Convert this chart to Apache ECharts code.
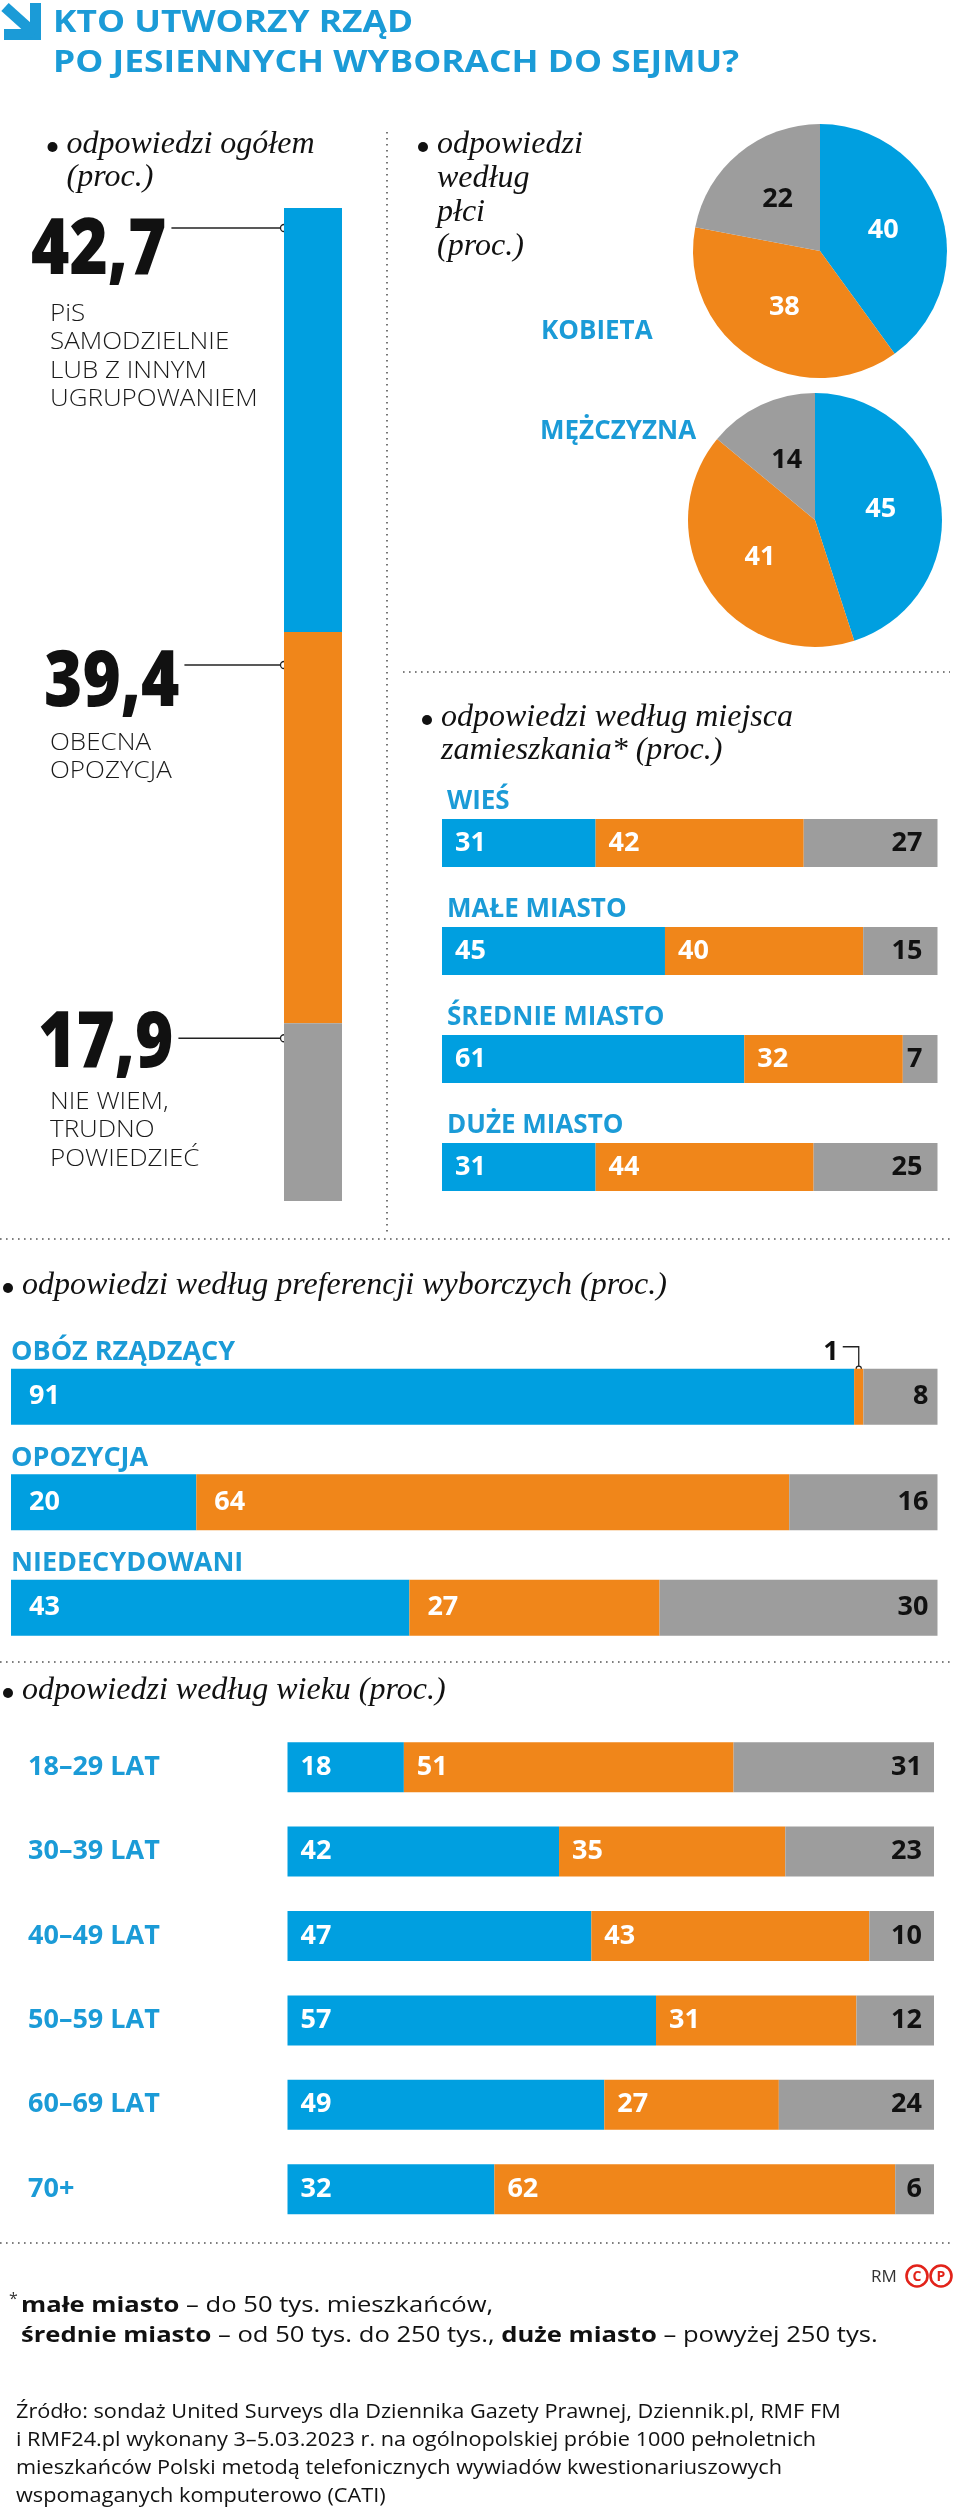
<!DOCTYPE html>
<html><head><meta charset="utf-8">
<script src="https://cdn.jsdelivr.net/npm/echarts@6/dist/echarts.min.js"></script>
<style>html,body{margin:0;padding:0;background:#fff}#c{width:976px;height:2508px}</style>
</head><body><div id="c"></div>
<script>
// ---------- DATA ----------
const titleLines = ['KTO UTWORZY RZĄD', 'PO JESIENNYCH WYBORACH DO SEJMU?'];
const overallValues = [42.7, 39.4, 17.9];
const overallLabels = [['PiS', 'SAMODZIELNIE', 'LUB Z INNYM', 'UGRUPOWANIEM'], ['OBECNA', 'OPOZYCJA'], ['NIE WIEM,', 'TRUDNO', 'POWIEDZIEĆ']];
const genderCategories = ['KOBIETA', 'MĘŻCZYZNA'];
const womenValues = [40, 38, 22];
const menValues = [45, 41, 14];
const placeCategories = ['WIEŚ', 'MAŁE MIASTO', 'ŚREDNIE MIASTO', 'DUŻE MIASTO'];
const placeBlue = [31, 45, 61, 31];
const placeOrange = [42, 40, 32, 44];
const placeGray = [27, 15, 7, 25];
const prefCategories = ['OBÓZ RZĄDZĄCY', 'OPOZYCJA', 'NIEDECYDOWANI'];
const prefBlue = [91, 20, 43];
const prefOrange = [1, 64, 27];
const prefGray = [8, 16, 30];
const ageCategories = ['18–29 LAT', '30–39 LAT', '40–49 LAT', '50–59 LAT', '60–69 LAT', '70+'];
const ageBlue = [18, 42, 47, 57, 49, 32];
const ageOrange = [51, 35, 43, 31, 27, 62];
const ageGray = [31, 23, 10, 12, 24, 6];
const headings = {
  overall: ['odpowiedzi ogółem', '(proc.)'],
  gender: ['odpowiedzi', 'według', 'płci', '(proc.)'],
  place: ['odpowiedzi według miejsca', 'zamieszkania* (proc.)'],
  pref: ['odpowiedzi według preferencji wyborczych (proc.)'],
  age: ['odpowiedzi według wieku (proc.)']
};
const footnoteLines = [
  '{b|małe miasto}{n| – do 50 tys. mieszkańców,}',
  '{b|średnie miasto}{n| – od 50 tys. do 250 tys., }{b|duże miasto}{n| – powyżej 250 tys.}'
];
const sourceLines = [
  'Źródło: sondaż United Surveys dla Dziennika Gazety Prawnej, Dziennik.pl, RMF FM',
  'i RMF24.pl wykonany 3–5.03.2023 r. na ogólnopolskiej próbie 1000 pełnoletnich',
  'mieszkańców Polski metodą telefonicznych wywiadów kwestionariuszowych',
  'wspomaganych komputerowo (CATI)'
];

// ---------- STYLE ----------
const BLUE = '#009fe0', ORANGE = '#f0861a', GRAY = '#9d9d9d', TBLUE = '#1b9bd7';
const SANS = '"Open Sans", "Noto Sans", "Liberation Sans", sans-serif';
const SERIF = '"Liberation Serif", "DejaVu Serif", serif';
const colors = [BLUE, ORANGE, GRAY];

const chart = echarts.init(document.getElementById('c'), null, {renderer: 'canvas'});

function hidden(type, extra) {
  return Object.assign({type: type, show: false}, extra || {});
}
function valLabel(pos, dist, color) {
  return {show: true, position: pos, distance: dist, color: color, fontFamily: SANS, fontWeight: 'bold', fontSize: 27,
          formatter: p => String(p.value)};
}
function stack(gi, arrays, bw, dl, dr, hideFirstOrange) {
  return arrays.map((arr, k) => ({
    type: 'bar', xAxisIndex: gi, yAxisIndex: gi, stack: 's' + gi, barWidth: bw, silent: true,
    itemStyle: {color: colors[k]},
    label: k === 2 ? valLabel('insideRight', dr, '#111') : valLabel('insideLeft', dl, '#fff'),
    data: arr.map((v, i) => (hideFirstOrange && k === 1 && i === 0) ? {value: v, label: {show: false}} : v)
  }));
}

const grids = [
  {left: 284, top: 208, width: 58, height: 993},
  {left: 442, top: 789, width: 495.5, height: 432},
  {left: 11, top: 1344, width: 926.5, height: 316.5},
  {left: 287.5, top: 1725, width: 646.5, height: 506.4}
].map(g => Object.assign(g, {containLabel: false, outerBoundsMode: 'none'}));

const catAxisBase = {type: 'category', inverse: true, axisLine: {show: false}, axisTick: {show: false}, splitLine: {show: false}};

const option = {
  animation: false,
  backgroundColor: '#fff',
  grid: grids,
  xAxis: [
    {type: 'category', data: [''], show: false, gridIndex: 0},
    hidden('value', {gridIndex: 1, min: 0, max: 100}),
    hidden('value', {gridIndex: 2, min: 0, max: 100}),
    hidden('value', {gridIndex: 3, min: 0, max: 100})
  ],
  yAxis: [
    {type: 'value', min: 0, max: 100, inverse: true, show: false, gridIndex: 0},
    Object.assign({}, catAxisBase, {gridIndex: 1, data: placeCategories, axisLabel: {show: false}}),
    Object.assign({}, catAxisBase, {gridIndex: 2, data: prefCategories, axisLabel: {show: false}}),
    Object.assign({}, catAxisBase, {gridIndex: 3, data: ageCategories,
      axisLabel: {show: true, align: 'left', margin: 259.5, color: TBLUE, fontFamily: SANS, fontWeight: 'bold', fontSize: 27}})
  ],
  series: [].concat(
    overallValues.map((v, k) => ({type: 'bar', xAxisIndex: 0, yAxisIndex: 0, stack: 'overall', barWidth: '100%', silent: true,
      itemStyle: {color: colors[k]}, data: [v]})),
    stack(1, [placeBlue, placeOrange, placeGray], 48, 13, 15, false),
    stack(2, [prefBlue, prefOrange, prefGray], 56, 18, 9, true),
    stack(3, [ageBlue, ageOrange, ageGray], 50, 13, 12, false),
    [[womenValues, [820, 251]], [menValues, [815, 520]]].map(([vals, c]) => ({
      type: 'pie', center: c, radius: 127, startAngle: 90, clockwise: true, silent: true,
      labelLine: {show: false},
      label: {show: true, position: 'inside', fontFamily: SANS, fontWeight: 'bold', fontSize: 27, formatter: '{c}'},
      emphasis: {disabled: true},
      data: vals.map((v, k) => ({value: v, itemStyle: {color: colors[k]}, label: {color: k === 2 ? '#111' : '#fff'}}))
    }))
  )
};
chart.setOption(option);

// ---------- GRAPHIC (text, leaders, separators) ----------
const g = [];
const mctx = document.createElement('canvas').getContext('2d');
function measure(text, font) { mctx.font = font; return mctx.measureText(text).width; }
function txt(x, y, text, font, fill, align, sx) {
  return {type: 'text', x: x, y: y, scaleX: sx || 1, silent: true,
    style: {text: text, font: font, fill: fill || '#111', align: align || 'left', verticalAlign: 'middle'}};
}
function dotted(x1, y1, x2, y2) {
  g.push({type: 'line', silent: true, shape: {x1, y1, x2, y2}, style: {stroke: '#555', lineWidth: 1.6, lineDash: [1.6, 4.4]}});
}
function heading(x, y, lines, step) {
  g.push({type: 'circle', silent: true, shape: {cx: x, cy: y + 2, r: 5}, style: {fill: '#111'}});
  lines.forEach((l, i) => g.push(txt(x + 14, y + i * step, l, 'italic 32px ' + SERIF, '#111')));
}

// arrow icon
g.push({type: 'rect', silent: true, shape: {x: 30, y: 3, width: 11, height: 37}, style: {fill: TBLUE}});
g.push({type: 'rect', silent: true, shape: {x: 4, y: 29, width: 37, height: 11}, style: {fill: TBLUE}});
g.push({type: 'polyline', silent: true, shape: {points: [[5, 7], [35, 34]]}, style: {stroke: TBLUE, lineWidth: 11}});
// title
titleLines.forEach((t, i) => g.push(txt(53, 23 + i * 40, t, 'bold 31px ' + SANS, TBLUE, 'left', 1.14)));

// headings
heading(52.5, 145, headings.overall, 33);
heading(423, 145, headings.gender, 33.7);
heading(427, 718, headings.place, 33);
heading(8, 1286, headings.pref, 33);
heading(8, 1691, headings.age, 33);

// overall: big numbers, leaders and descriptions
const numFont = '800 78px ' + SANS;
const numScale = 0.84;
const leaderOffsets = [20, 33, 15];
const numX = [31, 44, 38];
const numDy = [24, 19, 7];
const subStart = [62, 59, 57];
const subFont = '300 23px ' + SANS;
let cum = 0;
overallValues.forEach((v, i) => {
  const yStart = chart.convertToPixel({gridIndex: 0}, [0, cum])[1];
  cum += v;
  const ly = yStart + leaderOffsets[i];
  const s = String(v).replace('.', ',');
  const w = measure(s, numFont) * numScale;
  const ty = ly + numDy[i];
  g.push(txt(numX[i], ty, s, numFont, '#111', 'left', numScale));
  const lx1 = numX[i] + w + 5;
  g.push({type: 'line', silent: true, shape: {x1: lx1, y1: ly, x2: grids[0].left, y2: ly}, style: {stroke: '#222', lineWidth: 1.5}});
  g.push({type: 'circle', silent: true, shape: {cx: grids[0].left, cy: ly, r: 3.5}, style: {fill: '#fff', stroke: '#222', lineWidth: 1.3}});
  overallLabels[i].forEach((l, j) => g.push(txt(50, ty + subStart[i] + j * 28.5, l, subFont, '#1a1a1a', 'left', 1.13)));
});

// gender labels
g.push(txt(541, 332, genderCategories[0], 'bold 26px ' + SANS, TBLUE));
g.push(txt(540, 432, genderCategories[1], 'bold 26px ' + SANS, TBLUE));

// category labels above bars
placeCategories.forEach((c, i) => {
  const p = chart.convertToPixel({gridIndex: 1}, [0, i]);
  g.push(txt(p[0] + 5, p[1] - 41, c, 'bold 26px ' + SANS, TBLUE));
});
prefCategories.forEach((c, i) => {
  const p = chart.convertToPixel({gridIndex: 2}, [0, i]);
  g.push(txt(p[0], p[1] - 44, c, 'bold 27px ' + SANS, TBLUE));
});
// small "1" callout
(function () {
  const p = chart.convertToPixel({gridIndex: 2}, [prefBlue[0] + prefOrange[0] / 2, 0]);
  const top = p[1] - 28;
  g.push(txt(p[0] - 20, top - 16, String(prefOrange[0]), 'bold 27px ' + SANS, '#111', 'right'));
  g.push({type: 'polyline', silent: true, shape: {points: [[p[0] - 16, top - 22], [p[0], top - 22], [p[0], top - 2]]}, style: {stroke: '#222', lineWidth: 1.3, fill: null}});
  g.push({type: 'circle', silent: true, shape: {cx: p[0], cy: top, r: 2.6}, style: {fill: '#fff', stroke: '#222', lineWidth: 1.2}});
})();

// separators
dotted(387, 132, 387, 1232);
dotted(403, 672, 950, 672);
dotted(0, 1239, 950, 1239);
dotted(0, 1662, 950, 1662);
dotted(0, 2243, 950, 2243);

// RM + logo
g.push(txt(871, 2277, 'RM', '17px ' + SANS, '#333'));
[['C', 917], ['P', 941]].forEach(([l, cx]) => {
  g.push({type: 'circle', silent: true, shape: {cx: cx, cy: 2276, r: 10.5}, style: {fill: 'none', stroke: '#e2231a', lineWidth: 2.6}});
  g.push(txt(cx, 2277, l, 'bold 14px ' + SANS, '#e2231a', 'center'));
});

// footnote
g.push(txt(9, 2299, '*', '16px ' + SANS, '#333'));
const rich = {b: {fontFamily: SANS, fontWeight: 'bold', fontSize: 21, fill: '#111'}, n: {fontFamily: SANS, fontSize: 21, fill: '#111'}};
footnoteLines.forEach((l, i) => g.push({type: 'text', x: 21, y: 2306 + i * 30, scaleX: 1.22, silent: true,
  style: {text: l, rich: rich, font: '21px ' + SANS, fill: '#111', verticalAlign: 'middle'}}));
sourceLines.forEach((l, i) => g.push(txt(16, 2412 + i * 28, l, '20px ' + SANS, '#111', 'left', 1.085)));

chart.setOption({graphic: {elements: g}});
</script></body></html>
